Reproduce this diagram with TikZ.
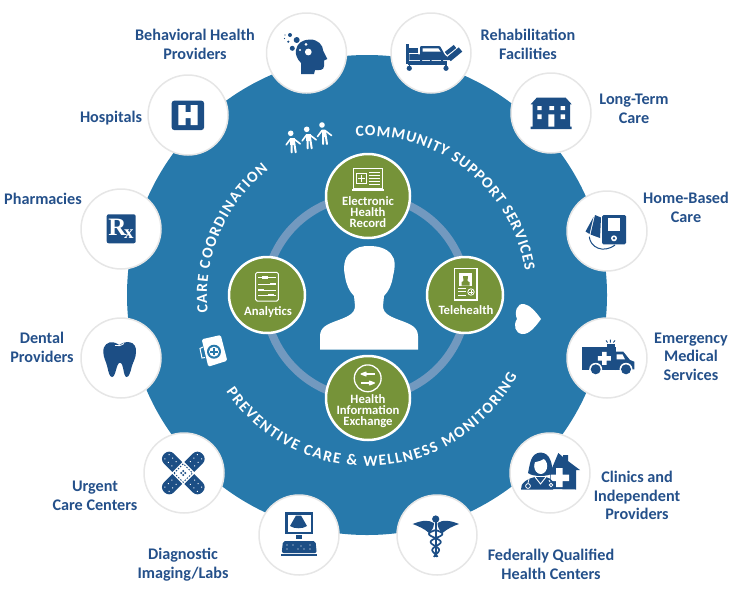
\documentclass[tikz,border=0pt]{standalone}
\usepackage{fontspec}
\setmainfont{Carlito}
\newfontfamily\rxfont{Liberation Serif}
\usetikzlibrary{arrows.meta, decorations.text}
\definecolor{hubblue}{HTML}{2779AB}
\definecolor{iconblue}{HTML}{1C4E85}
\definecolor{labelblue}{HTML}{24508A}
\definecolor{leaf}{HTML}{769339}
\definecolor{ringblue}{HTML}{7299BF}
\definecolor{rim}{HTML}{E6E6E6}
\newcommand{\bowfont}{\fontsize{15.5}{15.5}\selectfont\bfseries\color{white}}

\begin{document}
\begin{tikzpicture}[
      x=1pt,y=-1pt,>={Stealth[round]},
      spoke/.style={circle,fill=white,draw=rim,line width=1.5pt,minimum size=80pt,inner sep=0pt},
      stage/.style={circle,fill=leaf,draw=white,line width=2.5pt,minimum size=84pt,inner sep=0pt},
      smallstage/.style={stage,minimum size=76pt},
      spokelabel/.style={align=center,text=labelblue,font=\fontsize{16.2}{18.7}\selectfont\bfseries},
      stagelabel/.style={align=center,text=white,font=\fontsize{12.7}{11}\selectfont\bfseries},
      bow/.style={decorate,decoration={text along path,text align={fit to path},text={#1}}},
      icon/.style={fill=iconblue,draw=none},
      glyph/.style={draw=white,line width=1pt},
      ]
      \useasboundingbox (0,0) rectangle (738,600);

      \node[circle,fill=hubblue,minimum size=480pt,inner sep=0pt] (hub) at (367,295) {};
      \coordinate (bend) at (367,296);

      % ring behind the four stages
      \draw[ringblue,line width=8pt] (366,297) circle[radius=101pt];

      \node[stage]      (record)    at (368,196) {};
      \node[stage]      (exchange)  at (368,398) {};
      \node[smallstage] (analytics) at (267,295) {};
      \node[smallstage] (tele)      at (465,295) {};

      \node[stagelabel] (recordtext)    at (368,212.5) {Electronic\\Health\\Record};
      \node[stagelabel] (exchangetext)  at (368,411.5) {Health\\Information\\Exchange};
      \node[stagelabel] (analyticstext) at (268,312)   {Analytics};
      \node[stagelabel] (teletext)      at (466,310)   {Telehealth};

      % patient in the middle
      \fill[white] (320,349.5) -- (320,336) .. controls (320,327) and (328,324) .. (336,321)
        .. controls (347,317) and (355,314) .. (355,306) -- (354,296)
        .. controls (349,291) and (346,284) .. (345,276) .. controls (343,268) and (344,258) .. (350,253)
        .. controls (356,247) and (362,246) .. (369,246) .. controls (378,246) and (386,248) .. (391,254)
        .. controls (396,259) and (395,268) .. (393,276) .. controls (392,284) and (389,291) .. (384,296)
        -- (383,306) .. controls (383,314) and (391,317) .. (402,321)
        .. controls (410,324) and (418,327) .. (418,336) -- (418,349.5) -- cycle;

      % the three bowed captions
      \path[bow={|\bowfont|COMMUNITY SUPPORT SERVICES}] (bend) ++(94:160pt) arc[start angle=94,end angle=9,radius=160pt];
      \path[bow={|\bowfont|CARE COORDINATION}] (bend) ++(186:160pt) arc[start angle=186,end angle=128,radius=160pt];
      \path[bow={|\bowfont|PREVENTIVE CARE {\&} WELLNESS MONITORING}] (bend) ++(214:170pt) arc[start angle=214,end angle=332,radius=170pt];

      % people
      \foreach \hx/\hy in {290.7/133.3, 306.7/129.3, 322/125}{
        \fill[white] (\hx,\hy) circle[radius=2.8pt];
        \draw[white,line width=1.6pt,line cap=round,line join=round] (\hx-4.5,\hy+11.5) -- (\hx,\hy+5.5) -- (\hx+3,\hy+5.5) -- (\hx+9.5,\hy+10.5);
        \draw[white,line width=2pt,line cap=round,line join=round] (\hx+1,\hy+19) -- (\hx+1,\hy+6) (\hx+3,\hy+6) -- (\hx+5,\hy+19);
        \fill[white] (\hx-0.5,\hy+5) rectangle (\hx+4,\hy+12);
      }
      % heart
      \fill[white] (541,319) .. controls (536,312) and (530,305) .. (524,304) .. controls (517,303) and (514,312) .. (517,319)
        .. controls (513,325) and (515,333) .. (522,334) .. controls (529,335) and (536,326) .. (541,319) -- cycle;
      % bag
      \fill[white,rounded corners=1.5pt] (201.7,339.3) -- (220.7,335) -- (227.3,360.7) -- (208.3,366.7) -- cycle;
      \draw[white,line width=1pt] (203,347) -- (200,348.5) -- (202,358) -- (205,357.5);
      \fill[hubblue] (214,351.7) circle[radius=7pt];
      \fill[white] (214,351.7) circle[radius=5pt];
      \draw[hubblue,line width=1.6pt] (214,348) -- (214,355.4) (210.3,351.7) -- (217.7,351.7);

      % laptop on the record stage
      \draw[glyph] (353.5,168.5) rectangle (382.5,188.5);
      \fill[white] (351.7,189) rectangle (384,191);
      \draw[glyph] (356.7,173.3) rectangle (366.7,183.3);
      \draw[glyph,line width=0.9pt] (361.7,175) -- (361.7,181.6) (358.4,178.3) -- (365,178.3);
      \foreach \ly in {172.5,175.5,178.5,181.5,184.5}{
        \draw[white,line width=0.6pt] (369,\ly) -- (379.5,\ly);
      }
      % abacus on the analytics stage
      \draw[glyph,rounded corners=1.5pt] (255.7,272.3) rectangle (278.3,301);
      \foreach \ly/\bx in {277.3/262, 284/270, 290/258, 295/268}{
        \draw[white,line width=0.6pt] (258,\ly) -- (276,\ly);
        \fill[white] (\bx,\ly-1.2) rectangle (\bx+6,\ly+1.2);
      }
      % tablet on the telehealth stage
      \draw[white,line width=1.6pt] (454.5,268.5) rectangle (477,300);
      \fill[white] (459.3,273.3) rectangle (471.7,285.7);
      \fill[leaf] (461.5,285.7) -- (461.5,282) -- (463.5,281) -- (463,276) -- (468,276) -- (467.5,281) -- (469.5,282) -- (469.5,285.7) -- cycle;
      \draw[white,line width=0.7pt] (458,288.5) -- (466,288.5) (458,291.7) -- (466,291.7) (458,295) -- (466,295);
      \draw[white,line width=0.8pt] (471,292) circle[radius=3.2pt];
      \draw[white,line width=0.7pt] (471,290) -- (471,294) (469,292) -- (473,292);
      % exchange arrows
      \draw[white,line width=1.3pt] (367.7,378.3) circle[radius=13.4pt];
      \draw[white,line width=1.3pt,->] (374.5,374) -- (360.5,374);
      \draw[white,line width=1.3pt,->] (361,383) -- (375,383);

      % outer ring of care settings
      \node[spoke] (behavioral) at (306.5,53) {};
      \node[spoke] (rehab)      at (431,53)   {};
      \node[spoke] (hospitals)  at (188,115)  {};
      \node[spoke] (longterm)   at (551,113)  {};
      \node[spoke] (pharmacies) at (121,229)  {};
      \node[spoke] (homebased)  at (607,231)  {};
      \node[spoke] (dental)     at (121,358)  {};
      \node[spoke] (ems)        at (607,358)  {};
      \node[spoke] (urgent)     at (184,473)  {};
      \node[spoke] (clinics)    at (550,473)  {};
      \node[spoke] (imaging)    at (299,535)  {};
      \node[spoke] (fqhc)       at (437,535)  {};

      \node[spokelabel] (behavioraltext) at (195,44.5) {Behavioral Health\\Providers};
      \node[spokelabel] (rehabtext)      at (528,44.5) {Rehabilitation\\Facilities};
      \node[spokelabel] (hospitalstext)  at (111,118)  {Hospitals};
      \node[spokelabel] (longtermtext)   at (634,108.5) {Long-Term\\Care};
      \node[spokelabel] (pharmaciestext) at (43,198.5) {Pharmacies};
      \node[spokelabel] (homebasedtext)  at (686,207.5) {Home-Based\\Care};
      \node[spokelabel] (dentaltext)     at (42,347.5) {Dental\\Providers};
      \node[spokelabel] (emstext)        at (691,356.5) {Emergency\\Medical\\Services};
      \node[spokelabel] (urgenttext)     at (95,495.5) {Urgent\\Care Centers};
      \node[spokelabel] (clinicstext)    at (637,495.5) {Clinics and\\Independent\\Providers};
      \node[spokelabel] (imagingtext)    at (183,564.5) {Diagnostic\\Imaging/Labs};
      \node[spokelabel] (fqhctext)       at (551,564.5) {Federally Qualified\\Health Centers};

      % head with bubbles
      \fill[icon] (301,74) -- (301,63) .. controls (297,59) and (295,54) .. (296,50)
        .. controls (297,43) and (303,39.5) .. (310,39.5) .. controls (318,39.5) and (323,45) .. (323.3,51)
        -- (327.3,59) -- (324,60.5) -- (324,66) .. controls (324,70) and (320,70.5) .. (315,70) -- (314,74) -- cycle;
      \fill[white] (308.3,52) circle[radius=3.4pt] (306,44.3) circle[radius=1.5pt] (300,50) circle[radius=1.2pt];
      \fill[icon] (296.7,40) circle[radius=3pt] (290,35) circle[radius=2pt] (292.3,48.3) circle[radius=2.5pt]
        (288.3,41.7) circle[radius=1.2pt] (285,35) circle[radius=0.7pt] (284.5,38.5) circle[radius=0.6pt];

      % bed
      \fill[icon] (406,44) rectangle (408.6,64);
      \fill[icon] (409.3,48) rectangle (418,53.3);
      \fill[icon] (409.3,54) -- (445,55) -- (451,60) -- (409.3,60) -- cycle;
      \fill[icon,rounded corners=1pt] (420,46) -- (440,46) -- (445.5,56) -- (420,56) -- cycle;
      \fill[white] (422.7,48.3) -- (438.3,48.3) -- (440.7,51.7) -- (422.7,51.7) -- cycle;
      \draw[iconblue,line width=4pt] (446,53.5) -- (455,46.5);
      \draw[iconblue,line width=5.5pt] (449,59) -- (460.5,49.5);
      \fill[icon] (408,61) rectangle (447,64.5);
      \fill[icon] (420,59.5) rectangle (422,64) (441,59.5) rectangle (443,64) (430,59.5) rectangle (431.5,64);
      \draw[iconblue,line width=1.2pt] (409.3,64) -- (409.3,66) (446,64) -- (446,66);
      \fill[icon] (409.3,68.3) circle[radius=2.6pt] (446,68.3) circle[radius=2.6pt];

      % H sign
      \fill[icon,rounded corners=2.5pt] (171.7,100.7) rectangle (204,130);
      \fill[white] (178.3,105) rectangle (185.5,125) (190.5,105) rectangle (197.7,125) (185,112) rectangle (191,118);

      % building
      \fill[icon] (530.7,104.3) -- (536.7,97.7) -- (565.7,97.7) -- (571.7,104.3) -- cycle;
      \fill[icon] (532.7,104) rectangle (570,127) (530.7,126.7) rectangle (571.7,129);
      \fill[white] (537.3,106) rectangle (541.7,110) (549.3,106) rectangle (554,110) (560.7,106) rectangle (565,110)
        (537.3,114.3) rectangle (541.7,119) (560.7,114.3) rectangle (565,119) (548.3,114.3) rectangle (554.3,126.7);

      % blood pressure monitor
      \fill[icon,rounded corners=1.5pt] (602,215) rectangle (626,244.3);
      \fill[white] (608.3,218.3) rectangle (620,230.7);
      \fill[white] (614,238.3) circle[radius=3pt];
      \fill[icon] (614,238.3) circle[radius=1.4pt];
      \fill[icon] (595,215) -- (601,217.5) -- (600,238) -- (590.5,234.5) -- cycle;
      \fill[icon] (593.5,217) -- (589.5,234) -- (585.5,231.5) -- cycle;
      \draw[iconblue,line width=1pt] (589.3,236.7) .. controls (590,247) and (603,254) .. (615,245);

      % ambulance
      \fill[icon] (582.3,346.7) rectangle (616,370);
      \fill[icon] (615,351.7) -- (623.3,351.7) -- (630,360) -- (634.3,361.7) -- (634.3,369.3) -- (615,370) -- cycle;
      \fill[white] (616.5,354.3) -- (622.5,354.3) -- (625,359.3) -- (616.5,359.3) -- cycle;
      \fill[white] (602,351.8) rectangle (606.6,364.8) (597.8,356) rectangle (610.8,360.6);
      \fill[icon] (606.5,344) rectangle (615,347);
      \draw[iconblue,line width=0.9pt] (606,340.5) -- (607.5,342.5) (610.3,339.5) -- (610.3,342.5) (615,340.5) -- (613.3,342.5);
      \fill[white] (595.7,369.3) circle[radius=6.5pt] (626,369.3) circle[radius=6.5pt];
      \fill[icon] (595.7,369.3) circle[radius=5pt] (626,369.3) circle[radius=5pt];

      % bandage
      \begin{scope}[shift={(urgent.center)},xshift=-0.7pt,rotate=45]
        \foreach \turn in {0,90,180,270}{
          \begin{scope}[rotate=\turn]
            \fill[icon] (8.5,-7) [rounded corners=6.5pt] -- (27,-7) -- (27,7) [sharp corners] -- (8.5,7) -- cycle;
            \foreach \dx/\dy in {13/-3, 13/3, 18/-3, 18/3, 23/-3, 23/3}{
              \fill[white] (\dx,\dy) circle[radius=0.7pt];
            }
          \end{scope}
        }
        \draw[iconblue,line width=0.9pt,dash pattern=on 1.5pt off 1.5pt] (-6.5,-6.5) rectangle (6.5,6.5);
        \fill[iconblue] (-2.2,-2.2) rectangle (-0.6,-0.6) (0.6,0.6) rectangle (2.2,2.2) (0.6,-2.2) rectangle (2.2,-0.6) (-2.2,0.6) rectangle (-0.6,2.2);
      \end{scope}

      % tooth
      \fill[icon] (103.3,352) .. controls (103,345) and (108,341.5) .. (113.3,342.3) .. controls (115,342.5) and (117,343.5) .. (119.3,345)
        .. controls (122,343) and (126,341.5) .. (130,342.3) .. controls (134,343) and (136.5,347) .. (136,352)
        .. controls (136,358) and (133,362) .. (131.7,366.7) .. controls (130.5,372) and (129,377) .. (126.7,377)
        .. controls (123,377) and (124,363) .. (120,362.7) .. controls (116,363) and (116,377) .. (112,377)
        .. controls (109.5,377) and (108.5,372) .. (107.3,366.7) .. controls (106,361) and (103.5,358) .. (103.3,352) -- cycle;
      \draw[white,line width=0.8pt] (115,345.5) .. controls (118,346.5) and (121,345.5) .. (124,343.5);

      % prescription sign
      \fill[icon,rounded corners=2pt] (106.7,214.3) rectangle (135.7,243.3);
      \node[text=white,inner sep=0pt,font=\rxfont\bfseries\fontsize{25}{25}\selectfont] (rxsign) at (121,228.5) {R\kern-2.5pt\raisebox{-3pt}{\fontsize{19}{19}\selectfont x}};

      % doctor and clinic
      \fill[icon] (550,489) -- (550,473) -- (558.3,453) -- (563,457) -- (563,455) -- (568,455) -- (568,461) -- (580,470) -- (576,470) -- (576,489.5) -- cycle;
      \fill[white] (556,468) rectangle (562.5,487) (550.5,474.5) rectangle (569,481);
      \fill[icon] (528,473) .. controls (530,465) and (530,453) .. (540.7,452.5) .. controls (551,453) and (552,465) .. (553,473)
        .. controls (548,477) and (533,477) .. (528,473) -- cycle;
      \fill[white] (540.7,466) ellipse[x radius=6.5pt,y radius=8pt];
      \fill[icon] (534,462) .. controls (538,462) and (543,460) .. (546,457) -- (541,455) -- (534,458) -- cycle;
      \fill[icon] (521,489.5) .. controls (520,483) and (528,478.5) .. (535,477) -- (546,477) .. controls (552,478.5) and (556,483) .. (553,489.5) -- cycle;
      \draw[white,line width=0.9pt] (535,477) -- (540.5,484) -- (546,477);
      \draw[white,line width=0.8pt] (529,479) -- (528,483) (549,480) -- (550,482);
      \draw[white,line width=0.8pt] (528,486) circle[radius=2.4pt] (551,485) circle[radius=1.8pt];

      % caduceus
      \fill[icon] (435,517) rectangle (436.6,557);
      \fill[icon] (435.7,519) circle[radius=3.6pt];
      \fill[icon] (412.7,524) .. controls (420,521) and (428,519) .. (434,523) .. controls (434,527) and (432,531) .. (429,533)
        .. controls (425,529) and (418,526) .. (412.7,524) -- cycle;
      \fill[icon] (459,524) .. controls (452,521) and (443,519) .. (437.5,523) .. controls (437.5,527) and (439.5,531) .. (442.5,533)
        .. controls (447,529) and (453,526) .. (459,524) -- cycle;
      \draw[iconblue,line width=1.7pt] plot[domain=0:27,samples=60] ({435.7+(7.5-\x*0.2)*sin(\x*22)},{530+\x});
      \draw[iconblue,line width=1.7pt] plot[domain=0:27,samples=60] ({435.7-(7.5-\x*0.2)*sin(\x*22)},{530+\x});

      % ultrasound console
      \fill[icon] (285,512.3) rectangle (313.3,534);
      \fill[white] (287.7,514.7) rectangle (311,531.7);
      \fill[icon] (296,515.5) -- (301,515.5) -- (307,526) .. controls (303,529) and (294,529) .. (290,526) -- cycle;
      \fill[icon] (295.7,535) rectangle (302.3,539);
      \fill[icon,rounded corners=2pt] (281.7,553) -- (283,541) -- (315.5,541) -- (316.7,553) -- cycle;
      \fill[icon] (281,553.7) rectangle (317.3,555.7);
      \foreach \dx/\dy in {287/545, 287/549, 293/545, 298/549, 301/546, 304/549, 310/545, 310/549}{
        \fill[white] (\dx,\dy) circle[radius=0.6pt];
      }
    \end{tikzpicture}
\end{document}
